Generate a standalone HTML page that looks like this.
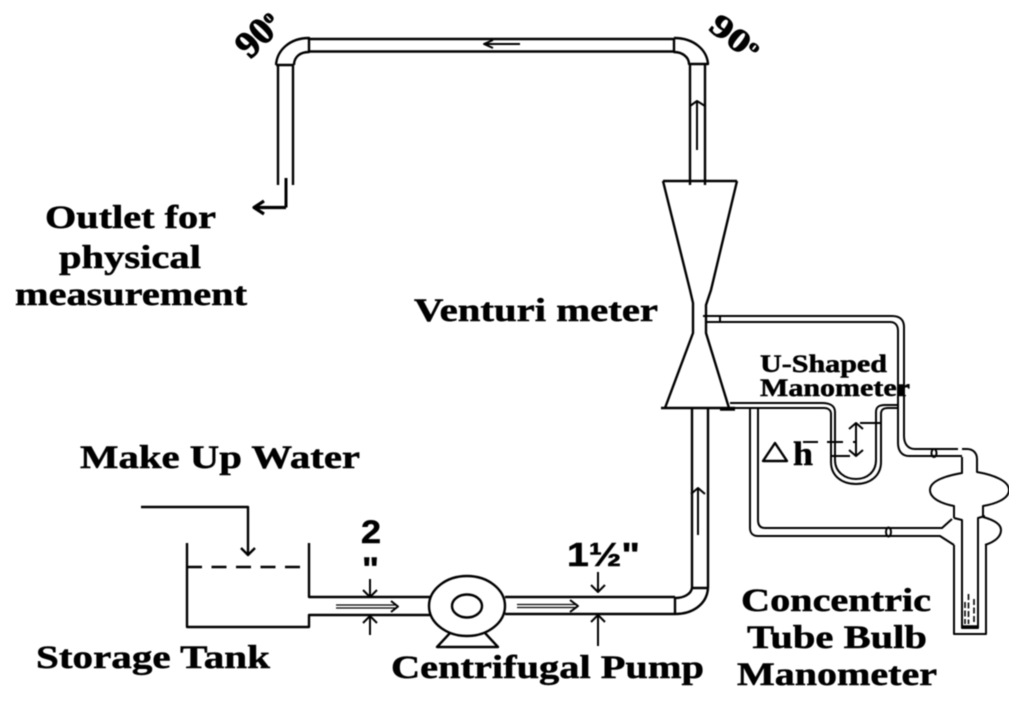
<!DOCTYPE html>
<html><head><meta charset="utf-8">
<style>
html,body{margin:0;padding:0;background:#fff}
svg{display:block}
.l{fill:none;stroke:#000;stroke-width:2.4;stroke-linecap:butt;stroke-linejoin:round}
.t{font-family:"Liberation Serif",serif;font-weight:bold;fill:#000;font-size:33px;stroke:#000;stroke-width:.5}
.s{font-family:"Liberation Sans",sans-serif;font-weight:bold;fill:#000;stroke:#000;stroke-width:.5}
</style></head><body>
<svg width="1024" height="701" viewBox="0 0 1024 701" xmlns="http://www.w3.org/2000/svg">
<defs><filter id="b" x="0" y="0" width="100%" height="100%"><feGaussianBlur stdDeviation="0.45"/></filter></defs>
<g filter="url(#b)">
<g class="l">
<!-- top pipe -->
<path d="M309 39H674M309 51.500H674"/>
<path d="M276 65H294M276 65C277 50 290 38 309 38V52C300 52 294 57 294 65M278 65V185M293 65V185"/>
<path d="M674 38V52C682 52 689 57 689 64H708C707 50 694 38 674 38M690 64V185M705 64V185"/>
<path d="M286 178V207.500" stroke-width="3"/>
<path d="M286 207.500H255M264 201L254 207.500L264 214" stroke-width="3.200"/>
<path d="M520 44H484M493 40L484 44L493 48" stroke-width="2"/>
<path d="M697 150V102M690 106L697 101L705 106" stroke-width="2"/>
<!-- venturi -->
<path d="M663 181H737M663 181L690 290L693 303V333L665 408M737 181L711 290L706 305V333L729 408M661 408H735"/>
<path d="M720 409H735" stroke-width="3.500"/>
<!-- lower pipe -->
<path d="M692 408V588M708 408V588M692 588H708M692 588C691 594 684 598 675 598M708 588C707 604 693 614 675 614M675 598V614"/>
<path d="M505 597H675M505 614H675"/>
<path d="M698 535V488M691 494L698 488L705 494" stroke-width="2"/>
<g stroke-width="1.300"><path d="M517 604.500H577M517 607.500H577"/></g>
<path d="M570 600L578 606L570 612" stroke-width="2"/>
<path d="M598 572V592M591 585L598 592L605 585M598 646V615M591 622L598 615L605 622" stroke-width="2"/>
<!-- pump -->
<ellipse cx="467" cy="606" rx="38" ry="30"/>
<ellipse cx="467" cy="606" rx="15" ry="11.500"/>
<path d="M450 633L437 647H498L485 633"/>
<!-- tank -->
<path d="M187 543V627H309V615H430M309 543V597H430"/>
<path d="M187 567H300" stroke-dasharray="15 9.500"/>
<path d="M141 507H248V555M241 548L248 555L255 548"/>
<path d="M370 579V597M363 590L370 597L377 590M370 635V616M363 623L370 616L377 623" stroke-width="2"/>
<g stroke-width="1.300"><path d="M336 605H397M336 608H397"/></g>
<path d="M391 601L398 606.500L391 612" stroke-width="2"/>
<!-- manometer tubing -->
<path d="M703 316H892C900 316 904 320 904 327V436C904 444 908 449 915 449H958M706 322H890C895 322 898 325 898 331V443C898 451 902 456 909 456H962" stroke-width="2"/>
<path d="M720 316V322" stroke-width="2"/>
<ellipse cx="934" cy="453" rx="2.500" ry="4" stroke-width="2"/>
<path d="M730 403H822C830 403 835 406 835 412V460C835 472 845 479 856 479C867 479 876 472 876 460V412C876 407 879 405 885 405H899" stroke-width="2"/>
<path d="M720 408H824C828 408 831 410 831 414V462C831 476 842 484 856 484C870 484 881 476 881 462V414C881 410 883 408 888 408H899" stroke-width="2"/>
<path d="M856 423V456M849 429L856 423L863 429M849 450L856 456L863 450" stroke-width="2"/>
<path d="M860 423H880M832 456H850" stroke-width="2"/>
<path d="M803 442H818M827 442H843M853 442H857" stroke-width="2"/>
<path d="M763 461L775 443L787 461Z"/>
<!-- left branch -->
<path d="M750 408V528C750 533 753 536 758 536H940L954 545M758 408V520C758 525 760 528 765 528H942L952 519" stroke-width="2"/>
<ellipse cx="888.500" cy="532" rx="2.500" ry="4.500" stroke-width="2"/>
<!-- bulb -->
<path d="M962 457V473C945 476 930 481 930 490C930 499 943 504 954 506V518M962 449H967C973 449 977 453 977 459V472C994 475 1009 481 1009 490C1009 499 995 504 983 506V516" stroke-width="2"/>
<path d="M983 517C994 520 1001 524 1001 530C1001 537 994 542 985 545" stroke-width="2"/>
<path d="M954 518L962 520V628H978V518L985 516" stroke-width="2"/>
<path d="M954 545V634H986V545" stroke-width="2"/>
<path d="M962 627H978" stroke-width="3.500"/>
<g stroke-width="1.600" stroke-dasharray="6 2.500"><path d="M965 602V624M968.500 594V624M974 599V624"/></g>
</g>
<!-- labels -->
<text class="t" x="45" y="228" textLength="171" lengthAdjust="spacingAndGlyphs">Outlet for</text>
<text class="t" x="59" y="268" textLength="142" lengthAdjust="spacingAndGlyphs">physical</text>
<text class="t" x="15" y="305" textLength="232" lengthAdjust="spacingAndGlyphs">measurement</text>
<text class="t" x="414" y="321" textLength="244" lengthAdjust="spacingAndGlyphs">Venturi meter</text>
<text class="t" x="80" y="468" textLength="280" lengthAdjust="spacingAndGlyphs">Make Up Water</text>
<text class="t" x="36" y="668" textLength="234" lengthAdjust="spacingAndGlyphs">Storage Tank</text>
<text class="t" x="391" y="678" textLength="313" lengthAdjust="spacingAndGlyphs">Centrifugal Pump</text>
<text class="t" x="741" y="611" textLength="190" lengthAdjust="spacingAndGlyphs">Concentric</text>
<text class="t" x="747" y="648" textLength="180" lengthAdjust="spacingAndGlyphs">Tube Bulb</text>
<text class="t" x="737" y="685" textLength="200" lengthAdjust="spacingAndGlyphs">Manometer</text>
<text class="t" x="760" y="372" textLength="127" lengthAdjust="spacingAndGlyphs" style="font-size:25px">U-Shaped</text>
<text class="t" x="760" y="396" textLength="150" lengthAdjust="spacingAndGlyphs" style="font-size:25px">Manometer</text>
<text class="t" x="793" y="465" textLength="20" lengthAdjust="spacingAndGlyphs" style="font-size:34px">h</text>
<text class="s" x="361" y="543" textLength="20" lengthAdjust="spacingAndGlyphs" style="font-size:32px">2</text>
<text class="s" x="362" y="580" textLength="17" lengthAdjust="spacingAndGlyphs" style="font-size:32px">"</text>
<text class="s" x="567" y="566" textLength="73" lengthAdjust="spacingAndGlyphs" style="font-size:33px">1½"</text>
<text class="t" transform="translate(250,60) rotate(-45)" style="font-size:38px;stroke-width:1">90<tspan dy="-12" style="font-size:19px">o</tspan></text>
<text class="t" transform="translate(707,29) rotate(38) scale(1.2,.9)" style="font-size:36px;stroke-width:.8">90<tspan dy="-12" style="font-size:18px">o</tspan></text>
</g>
</svg>
</body></html>
